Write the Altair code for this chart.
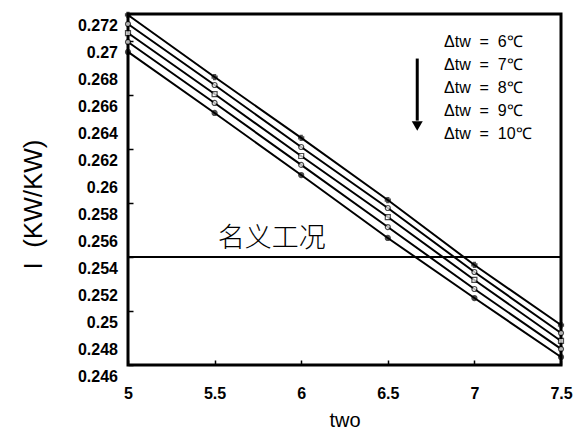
import altair as alt
import pandas as pd

NB = "\u00a0"
# ---- data ----
x_vals = [5, 5.5, 6, 6.5, 7, 7.5]
series = ["Δtw  =  6℃", "Δtw  =  7℃", "Δtw  =  8℃", "Δtw  =  9℃", "Δtw  =  10℃"]
s6 = [0.27193, 0.26733, 0.26282, 0.25822, 0.25341, 0.24896]
s7 = [0.27126, 0.26674, 0.26215, 0.25763, 0.25289, 0.24837]
s8 = [0.27059, 0.26607, 0.26148, 0.25696, 0.25230, 0.24778]
s9 = [0.26993, 0.26541, 0.26082, 0.25622, 0.25163, 0.24719]
s10 = [0.26919, 0.26467, 0.26007, 0.25541, 0.25096, 0.24659]
y_ticks = [0.246, 0.248, 0.25, 0.252, 0.254, 0.256, 0.258, 0.26,
           0.262, 0.264, 0.266, 0.268, 0.27, 0.272]
y_tick_labels = ["0.246", "0.248", "0.25", "0.252", "0.254", "0.256", "0.258", "0.26",
                 "0.262", "0.264", "0.266", "0.268", "0.27", "0.272"]
x_ticks = [5, 5.5, 6, 6.5, 7, 7.5]
nominal_value = 0.254
nominal_label = "名义工况"
y_title = "I  (KW/KW)"

series_nb = [s.replace(" ", NB) for s in series]
rows = []
for name, vals in zip(series_nb, [s6, s7, s8, s9, s10]):
    for xv, yv in zip(x_vals, vals):
        rows.append({"two": xv, "I": yv, "series": name})
df = pd.DataFrame(rows)

FONT = "Liberation Sans"
xs = alt.Scale(domain=[5, 7.5], nice=False, zero=False)
ys = alt.Scale(domain=[0.246, 0.272], nice=False, zero=False)

x_enc = alt.X("two:Q", scale=xs, axis=alt.Axis(
    title="two", values=x_ticks, format="~g", domain=False,
    ticks=True, tickSize=5, offset=-5, tickColor="black", tickWidth=1.5,
    labelPadding=20, labelFlush=False, labelOverlap=False,
    labelFont=FONT, labelFontSize=16, labelFontWeight="bold", labelColor="black",
    titleFont=FONT, titleFontSize=20, titleFontWeight="normal", titleColor="black",
    titlePadding=9, grid=False))
y_enc = alt.Y("I:Q", scale=ys, axis=alt.Axis(
    title=y_title.replace(" ", NB), values=y_ticks, domain=False, labels=False,
    ticks=True, tickSize=5, offset=-5, tickColor="black", tickWidth=1.5,
    titleFont=FONT, titleFontSize=26, titleFontWeight="normal", titleColor="black",
    titleX=-100, titleY=190, titleAlign="center", titleBaseline="middle",
    grid=False))

color = alt.Color("series:N", scale=alt.Scale(domain=series_nb, range=["black"] * 5),
                  legend=alt.Legend(title=None, orient="none", legendX=300, legendY=20,
                                    symbolOpacity=0, symbolSize=0, symbolStrokeWidth=0,
                                    labelOffset=0, labelFont=FONT, labelFontSize=16,
                                    labelColor="black", rowPadding=7, labelLimit=300))

lines = alt.Chart(df).mark_line(strokeWidth=2).encode(x=x_enc, y=y_enc, color=color, detail="series:N")

points = alt.Chart(df).mark_point(filled=True, size=25, stroke="black", strokeWidth=1.2).encode(
    x="two:Q", y="I:Q",
    shape=alt.Shape("series:N", scale=alt.Scale(domain=series_nb,
                    range=["cross", "circle", "square", "circle", "circle"]), legend=None),
    fill=alt.Fill("series:N", scale=alt.Scale(domain=series_nb,
                  range=["black", "white", "white", "white", "black"]), legend=None),
)

ylab = alt.Chart(pd.DataFrame({"v": y_ticks, "t": y_tick_labels})).mark_text(
    font=FONT, fontSize=16, fontWeight="bold", color="black", align="right",
    baseline="middle", dy=12
).encode(x=alt.value(-10), y=alt.Y("v:Q", scale=ys), text="t:N")

nominal = alt.Chart(pd.DataFrame({"v": [nominal_value]})).mark_rule(
    color="black", strokeWidth=1.8).encode(y=alt.Y("v:Q", scale=ys))

nominal_text = alt.Chart(pd.DataFrame({"t": [nominal_label]})).mark_text(
    font="Noto Sans CJK SC", fontSize=27, fontWeight=300, color="black", baseline="bottom"
).encode(x=alt.datum(5.83), y=alt.datum(0.2543), text="t:N")

arrow_shaft = alt.Chart(pd.DataFrame({"a": [1]})).mark_rule(color="black", strokeWidth=3).encode(
    x=alt.datum(6.67), y=alt.datum(0.2687), y2=alt.datum(0.2641))
arrow_head = alt.Chart(pd.DataFrame({"a": [1]})).mark_point(
    shape="triangle-down", filled=True, color="black", size=120, opacity=1).encode(
    x=alt.datum(6.67), y=alt.datum(0.2637))

chart = alt.layer(lines, points, ylab, nominal, nominal_text, arrow_shaft, arrow_head).resolve_scale(
    shape="independent", fill="independent"
).properties(
    width=433, height=351,
    autosize=alt.AutoSizeParams(type="none"),
    padding={"left": 120, "top": 6, "right": 14, "bottom": 72},
    background="white",
).configure_view(stroke="black", strokeWidth=3)

chart.save("out.html", embed_options={"renderer": "svg", "actions": False})
